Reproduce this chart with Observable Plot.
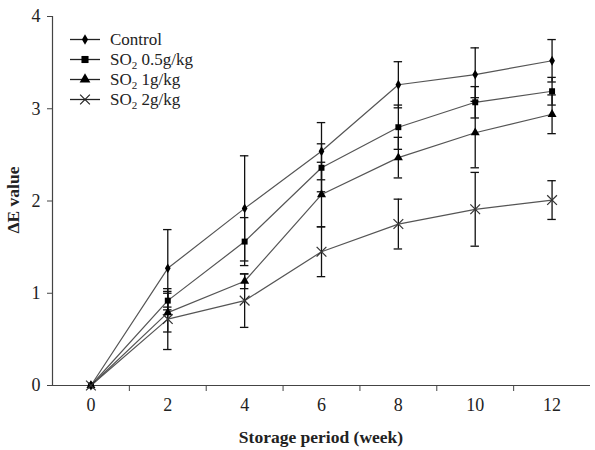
<!DOCTYPE html>
<html><head><meta charset="utf-8">
<script src="https://cdn.jsdelivr.net/npm/d3@7"></script>
<script src="https://cdn.jsdelivr.net/npm/@observablehq/plot@0.6"></script>
<style>body{margin:0;background:#fff}</style>
</head><body><div id="chart"></div>
<script>
const weeks = [0, 2, 4, 6, 8, 10, 12];
const xTickLabels = [0, 2, 4, 6, 8, 10, 12];
const yTicks = [0, 1, 2, 3, 4];
const seriesNames = ["Control", "SO2 0.5g/kg", "SO2 1g/kg", "SO2 2g/kg"];
const control    = [0, 1.27, 1.92, 2.54, 3.26, 3.37, 3.52];
const controlErr = [0, 0.42, 0.57, 0.31, 0.25, 0.29, 0.23];
const so05       = [0, 0.92, 1.56, 2.36, 2.80, 3.07, 3.19];
const so05Err    = [0, 0.10, 0.26, 0.26, 0.24, 0.17, 0.15];
const so1        = [0, 0.79, 1.13, 2.07, 2.47, 2.74, 2.94];
const so1Err     = [0, 0.21, 0.08, 0.35, 0.22, 0.38, 0.21];
const so2        = [0, 0.72, 0.92, 1.45, 1.75, 1.91, 2.01];
const so2Err     = [0, 0.33, 0.29, 0.27, 0.27, 0.40, 0.21];

const symbols = ["diamond", "square", "triangle", "times"];
const sizes = [3.2, 4, 4, 4.5];
const vals = [control, so05, so1, so2];
const errs = [controlErr, so05Err, so1Err, so2Err];
const data = [];
seriesNames.forEach((s, i) => weeks.forEach((w, j) => data.push({
  series: s, si: i, x: w, y: vals[i][j], e: errs[i][j]
})));
const errData = data.filter(d => d.e > 0);
const oddTicks = d3.range(1, 12, 2);
const font = "'Liberation Serif', 'Times New Roman', serif";

const plot = Plot.plot({
  width: 595, height: 450,
  marginLeft: 52, marginRight: 5, marginTop: 16, marginBottom: 65,
  style: {fontFamily: font, fontSize: "18px", color: "#222", background: "#fff"},
  x: {domain: [-1, 13]},
  y: {domain: [0, 4]},
  marks: [
    Plot.ruleX([-1], {stroke: "#444", strokeWidth: 1.2}),
    Plot.ruleY([0], {stroke: "#444", strokeWidth: 1.2}),
    Plot.axisY({ticks: yTicks, tickSize: 5, tickPadding: 7, label: null, tickFormat: d => d, stroke: "#444"}),
    Plot.axisX({ticks: oddTicks, tickSize: 6, tickFormat: () => "", label: null, stroke: "#444"}),
    Plot.axisX({ticks: xTickLabels, tickSize: 0, tickPadding: 13, label: null, tickFormat: d => d}),
    Plot.ruleX(errData, {x: "x", y1: d => d.y - d.e, y2: d => d.y + d.e, stroke: "#111", strokeWidth: 1.3}),
    Plot.ruleY(errData, {y: d => d.y + d.e, x1: d => d.x - 0.11, x2: d => d.x + 0.11, stroke: "#111", strokeWidth: 1.3}),
    Plot.ruleY(errData, {y: d => d.y - d.e, x1: d => d.x - 0.11, x2: d => d.x + 0.11, stroke: "#111", strokeWidth: 1.3}),
    Plot.line(data, {x: "x", y: "y", z: "series", stroke: "#555", strokeWidth: 1.2}),
    Plot.dot(data.filter(d => d.si < 3), {x: "x", y: "y", symbol: d => symbols[d.si], r: d => sizes[d.si], fill: "#000", stroke: "none"}),
    Plot.dot(data.filter(d => d.si === 3), {x: "x", y: "y", symbol: "times", r: 4.5, stroke: "#333", strokeWidth: 1.2, fill: "none"})
  ]
});

const svg = d3.select(plot);
// axis titles
svg.append("text").attr("transform", "translate(19,200) rotate(-90)")
  .attr("text-anchor", "middle").attr("font-family", font).attr("font-size", 17.5)
  .attr("font-weight", "bold").attr("fill", "#222").text("ΔE value");
svg.append("text").attr("x", 321).attr("y", 443)
  .attr("text-anchor", "middle").attr("font-family", font).attr("font-size", 17.5)
  .attr("font-weight", "bold").attr("fill", "#222").text("Storage period (week)");

// legend
const lg = svg.append("g").attr("font-family", font).attr("font-size", 17).attr("fill", "#222")
  .attr("text-anchor", "start");
seriesNames.forEach((name, i) => {
  const yy = 39.5 + i * 20;
  lg.append("line").attr("x1", 70).attr("x2", 100).attr("y1", yy).attr("y2", yy)
    .attr("stroke", "#222").attr("stroke-width", 1.3);
  const sym = d3.symbol().type([d3.symbolDiamond, d3.symbolSquare, d3.symbolTriangle, d3.symbolX][i])
    .size(Math.PI * sizes[i] * sizes[i]);
  const p = lg.append("path").attr("d", sym()).attr("transform", `translate(85,${yy})`);
  if (i === 3) p.attr("fill", "none").attr("stroke", "#222").attr("stroke-width", 1.2);
  else p.attr("fill", "#000");
  const t = lg.append("text").attr("x", 110).attr("y", yy + 5.5).attr("text-anchor", "start");
  if (name.startsWith("SO2")) {
    t.append("tspan").text("SO");
    t.append("tspan").attr("font-size", 11).attr("dy", 4).text("2");
    t.append("tspan").attr("dy", -4).text(" " + name.slice(4));
  } else t.text(name);
});
document.getElementById("chart").appendChild(plot);
</script></body></html>
